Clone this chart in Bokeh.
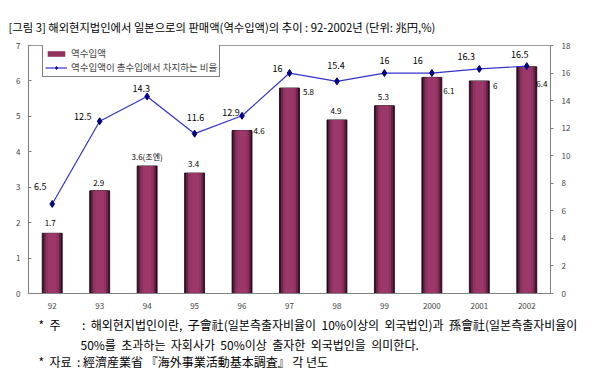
from bokeh.plotting import figure
from bokeh.models import (Range1d, LinearAxis, FactorRange, ColumnDataSource, Title,
                          LabelSet, Legend, LegendItem, FixedTicker)
from bokeh.embed import file_html
from bokeh.resources import INLINE
from bokeh.core.properties import value

# ---- data ----
years = ["92", "93", "94", "95", "96", "97", "98", "99", "2000", "2001", "2002"]
reimports = [1.7, 2.9, 3.6, 3.4, 4.6, 5.8, 4.9, 5.3, 6.1, 6.0, 6.4]          # 兆円
share = [6.5, 12.5, 14.3, 11.6, 12.9, 16.0, 15.4, 16.0, 16.0, 16.3, 16.5]   # %
bar_label_text = ["1.7", "2.9", "3.6(조엔)", "3.4", "4.6", "5.8", "4.9", "5.3", "6.1", "6", "6.4"]
share_label_text = ["6.5", "12.5", "14.3", "11.6", "12.9", "16", "15.4", "16", "16", "16.3", "16.5"]
left_ticks = [0, 1, 2, 3, 4, 5, 6, 7]
right_ticks = [0, 2, 4, 6, 8, 10, 12, 14, 16, 18]

NB = "\u00a0"
title_text = "[그림 3] 해외현지법인에서 일본으로의 판매액(역수입액)의 추이 : 92-2002년 (단위: 兆円,%)"
note1 = ("*" + NB * 2 + "주" + NB * 8 + ":" + NB * 2 + "해외현지법인이란," + NB * 2 + "子會社(일본측출자비율이"
         + NB * 2 + "10%이상의" + NB * 2 + "외국법인)과" + NB * 2 + "孫會社(일본측출자비율이")
note2 = ("50%를" + NB * 2 + "초과하는" + NB * 2 + "자회사가" + NB * 2 + "50%이상" + NB * 2 + "출자한"
         + NB * 2 + "외국법인을" + NB * 2 + "의미한다.")
note3 = ("*" + NB * 2 + "자료" + NB * 2 + ":" + NB + "經濟産業省" + NB + "『海外事業活動基本調査』"
         + NB + "각 년도")
legend_bar = "역수입액"
legend_line = "역수입액이 총수입에서 차지하는 비율"

# ---- label placement (style, screen px) ----
bar_dx = [-2, -1, 0, -1, 17, 19, -1, -1, 17, 16, 15]
bar_dy = [10, 8, 9, 9, 0, -4, 9, 9, -14, -5, -17]
line_dx = [-12, -17, -6, 1, -11, -12, -1, 0, -14, -13, -7]
line_dy = [17, 5, 8, 16, 3, 5, 16, 13, 13, 12, 12]

FONT = "Noto Sans CJK KR"

src = ColumnDataSource(dict(year=years, v=reimports, s=share,
                            bl=bar_label_text, sl=share_label_text,
                            bdx=bar_dx, bdy=bar_dy, ldx=line_dx, ldy=line_dy))

p = figure(width=595, height=376, x_range=FactorRange(*years), y_range=Range1d(0, 7),
           output_backend="svg", toolbar_location=None,
           min_border_left=28, min_border_right=45, min_border_top=45, min_border_bottom=83)
p.extra_y_ranges = {"pct": Range1d(0, 18)}
p.xgrid.grid_line_color = None
p.ygrid.grid_line_color = None
p.outline_line_color = "#999999"
p.background_fill_color = "white"
p.border_fill_color = "white"

# bars with cylinder-like shading
p.vbar(x="year", top="v", width=0.42, source=src, fill_color="#3d1029", line_color="black", line_width=0.8)
p.vbar(x="year", top="v", width=0.36, source=src, fill_color="#6a2246", line_color=None)
bar_main = p.vbar(x="year", top="v", width=0.28, source=src, fill_color="#8f3260", line_color=None)
p.vbar(x="year", top="v", width=0.18, source=src, fill_color="#9c3869", line_color=None)

# line
ln = p.line(x="year", y="s", source=src, y_range_name="pct", line_color="#3333cc", line_width=1.2)
mk = p.scatter(x="year", y="s", source=src, y_range_name="pct", marker="diamond", size=7,
               fill_color="#000080", line_color="#000080")

# data labels
p.add_layout(LabelSet(x="year", y="v", text="bl", source=src, x_offset="bdx", y_offset="bdy",
                      text_align="center", text_baseline="middle", text_font=value(FONT),
                      text_font_size="8px", text_color="black"))
p.add_layout(LabelSet(x="year", y="s", text="sl", source=src, x_offset="ldx", y_offset="ldy",
                      y_range_name="pct", text_align="center", text_baseline="middle",
                      text_font=value(FONT), text_font_size="9px", text_color="black"))

# axes
for ax in p.yaxis:
    ax.ticker = FixedTicker(ticks=left_ticks)
    ax.major_tick_in = 3
    ax.major_tick_out = 0
    ax.minor_tick_line_color = None
    ax.axis_line_color = "#808080"
    ax.major_tick_line_color = "#808080"
    ax.major_label_standoff = 8
    ax.major_label_text_font = FONT
    ax.major_label_text_font_size = "8px"
for ax in p.xaxis:
    ax.major_tick_line_color = None
    ax.axis_line_color = "#808080"
    ax.major_label_standoff = 3
    ax.major_label_text_font = FONT
    ax.major_label_text_font_size = "8px"

r_ax = LinearAxis(y_range_name="pct", ticker=FixedTicker(ticks=right_ticks))
r_ax.major_tick_in = 0
r_ax.major_tick_out = 3
r_ax.minor_tick_line_color = None
r_ax.axis_line_color = "#808080"
r_ax.major_tick_line_color = "#808080"
r_ax.major_label_standoff = 8
r_ax.major_label_text_font = FONT
r_ax.major_label_text_font_size = "8px"
p.add_layout(r_ax, "right")

# legend (location = bottom-left corner, px from frame bottom-left)
leg = Legend(items=[LegendItem(label=legend_bar, renderers=[bar_main]),
                    LegendItem(label=legend_line, renderers=[ln, mk])],
             location=(14, 216), orientation="vertical",
             label_text_font=FONT, label_text_font_size="9.5px",
             glyph_width=22, glyph_height=7, label_height=8, label_standoff=4,
             spacing=0, padding=2, margin=0,
             border_line_color="black", border_line_width=1,
             background_fill_color="white", background_fill_alpha=1)
p.add_layout(leg)

# title and notes
def mk_title(txt, off, standoff, size):
    return Title(text=txt, align="left", offset=off, standoff=standoff,
                 text_font=FONT, text_font_size=size, text_font_style="normal",
                 text_color="black")

p.add_layout(mk_title(title_text, -20, 21, "11.3px"), "above")
p.add_layout(mk_title(note1, 10, 4, "12px"), "below")
p.add_layout(mk_title(note2, 52, -2, "12px"), "below")
p.add_layout(mk_title(note3, 10, -2, "12px"), "below")

open("out.html", "w").write(file_html(p, INLINE))
